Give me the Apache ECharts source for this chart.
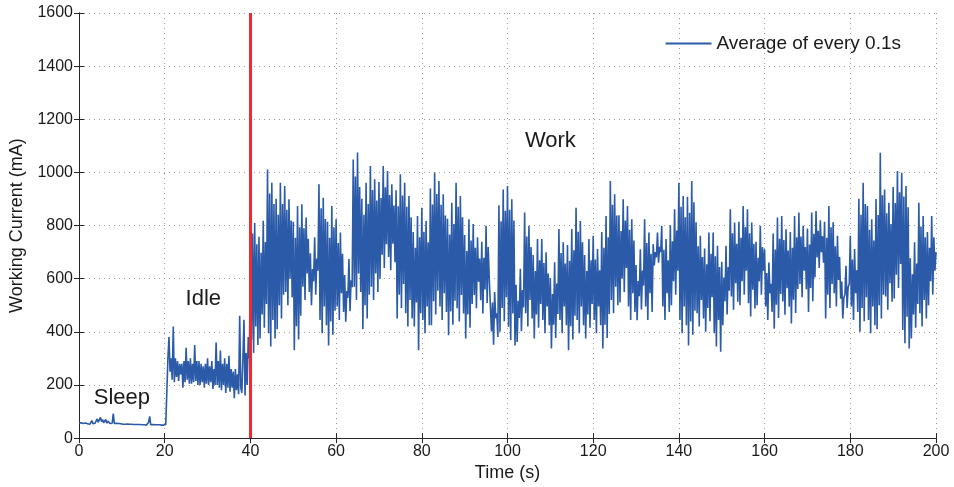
<!DOCTYPE html>
<html>
<head>
<meta charset="utf-8">
<script src="https://cdn.jsdelivr.net/npm/echarts@6/dist/echarts.min.js"></script>
<style>
html,body{margin:0;padding:0;background:#fff;}
#chart{width:954px;height:487px;}
</style>
</head>
<body>
<div id="chart"></div>
<script>
// sample spacing (s) of the hand-read values
const sampleStep = 0.25;
const transitionTime = 40;
const xTicks = [0, 20, 40, 60, 80, 100, 120, 140, 160, 180, 200];
const yTicks = [0, 200, 400, 600, 800, 1000, 1200, 1400, 1600];
const seriesName = 'Average of every 0.1s';
const phaseLabels = [
  { text: 'Sleep', t: 10, v: 150 },
  { text: 'Idle', t: 29, v: 525 },
  { text: 'Work', t: 110, v: 1120 }
];
// t = 0 .. 20.5
const sleepValues = [
  57,56,58,57,55,56,57,55, 54,60,52,58,66,54,60,56, 58,72,60,66,78,62,70,58,
  62,70,56,64,58,55,57,56, 92,55,60,56,54,55,53,54, 53,52,53,52,52,53,52,52,
  51,52,50,51,52,51,50,51, 50,51,50,50,51,50,50,49, 51,60,82,50,50,51,49,50,
  49,50,49,50,50,49,50,49, 50,51,52
];
// t = 20.75 .. 39.75
const idleValues = [
  300,
  380,250,300,220,
  420,210,300,230,290,215,280,240, 280,190,290,210,340,220,290,205,
  300,205,280,210,350,215,290,200, 290,200,280,210,270,190,280,205,
  300,200,270,210,290,185,260,200, 360,200,290,190,330,180,280,200,
  300,170,280,190,310,175,260,190, 250,150,260,180,240,165,460,190,
  170,300,445,160,320,200,380,300
];
// t = 40 .. 200
const workValues = [
  650,370,770,320,810,420,730,350, 758,375,698,465,818,415,738,505,
  1011,395,921,345,961,445,881,375, 901,410,841,500,961,450,881,540,
  949,550,859,500,899,600,819,530, 814,331,754,421,874,371,794,461,
  880,570,790,520,830,620,750,550, 696,500,636,590,756,540,676,630,
  955,445,865,395,905,495,825,425, 814,349,754,439,874,389,794,479,
  824,495,734,445,774,545,694,475, 614,438,554,528,674,478,594,568,
  1049,570,985,520,1075,620,945,550, 901,410,841,500,961,450,881,540,
  1024,570,934,520,974,620,894,550, 964,600,904,690,1024,640,944,730,
  1005,682,915,632,955,732,875,662, 933,450,873,540,993,490,913,580,
  961,470,871,420,911,520,831,450, 776,420,716,510,836,331,756,470,
  867,445,777,395,817,495,737,425, 939,425,879,515,999,465,919,555,
  968,495,878,445,918,545,838,475, 826,387,766,477,886,427,806,517,
  961,489,871,439,911,539,831,469, 764,375,704,465,824,415,744,505,
  806,539,716,489,756,589,676,519, 739,469,679,559,799,509,719,599,
  600,401,510,351,550,451,470,381, 876,400,816,490,936,440,856,530,
  949,419,859,369,899,469,819,349, 577,362,517,452,637,402,557,492,
  849,470,759,420,799,520,719,450, 689,375,629,465,749,415,669,505,
  749,445,659,395,699,495,619,425, 602,337,542,427,662,377,582,467,
  787,445,697,395,737,495,657,425, 727,331,667,421,787,371,707,461,
  867,445,777,395,817,495,737,425, 689,375,629,465,749,415,669,505,
  762,445,672,395,712,495,632,425, 776,337,716,427,836,377,756,467,
  968,520,878,470,918,570,838,500, 839,510,779,600,899,550,819,640,
  874,495,784,445,824,545,744,475, 651,444,591,534,711,484,631,574,
  824,495,734,445,774,545,694,475, 730,650,700,680,774,660,720,700,
  799,495,709,445,749,545,669,475, 801,500,741,590,861,540,781,630,
  961,445,871,395,911,495,831,425, 908,349,848,439,968,389,888,479,
  812,470,722,420,762,520,682,450, 714,400,654,490,774,440,694,530,
  774,395,684,345,724,445,644,325, 664,425,604,515,724,465,644,555,
  861,533,771,483,811,583,731,513, 814,500,754,590,874,540,794,630,
  861,508,771,458,811,558,731,488, 739,500,679,590,799,540,719,630,
  711,495,621,445,661,545,581,475, 770,412,710,502,830,452,750,542,
  836,514,746,464,786,564,706,494, 776,431,716,521,836,471,756,561,
  849,580,759,530,799,630,719,560, 789,475,729,565,849,515,769,605,
  855,680,780,640,820,700,760,660, 814,450,754,540,874,490,794,580,
  812,545,722,495,762,595,682,525, 589,450,529,540,649,490,569,580,
  762,495,672,445,712,545,632,475, 901,400,841,490,961,440,881,530,
  874,445,784,395,824,495,744,425, 900,410,840,500,1074,450,914,540,
  936,533,846,483,886,583,806,513, 945,525,885,615,1005,565,925,655,
  999,407,909,357,949,457,869,337, 677,375,617,465,737,415,657,505,
  886,470,796,420,836,520,756,450, 776,500,716,590,836,540,756,630,
  700
];

const allValues = sleepValues.concat(idleValues, workValues);
const seriesData = allValues.map((v, i) => [i * sampleStep, v]);

const font = 'Liberation Sans, Arial, Helvetica, sans-serif';
const axisColor = '#262626';
const textColor = '#1a1a1a';
const gridLine = { show: true, lineStyle: { color: '#9a9a9a', type: [1, 4], width: 1 } };
const plain = v => String(v);

const chart = echarts.init(document.getElementById('chart'));
chart.setOption({
  animation: false,
  backgroundColor: '#fff',
  grid: { left: 79, right: 18, top: 13, bottom: 47, containLabel: false },
  legend: {
    show: true,
    top: 29, right: 48,
    itemWidth: 46, itemHeight: 2, itemGap: 6,
    data: [{ name: seriesName, icon: 'rect' }],
    textStyle: { fontFamily: font, fontSize: 19, color: textColor, padding: [0, 0, 0, 0] }
  },
  xAxis: [{
    type: 'value', min: xTicks[0], max: xTicks[xTicks.length - 1], interval: 20,
    name: 'Time (s)', nameLocation: 'middle', nameGap: 22,
    nameTextStyle: { fontFamily: font, fontSize: 18, color: textColor },
    axisLine: { show: true, lineStyle: { color: axisColor, width: 1 } },
    axisTick: { show: true, inside: true, length: 5, lineStyle: { color: axisColor } },
    axisLabel: { fontFamily: font, fontSize: 16, color: textColor, margin: 5, formatter: plain },
    splitLine: gridLine
  }, {
    type: 'value', position: 'top', min: xTicks[0], max: xTicks[xTicks.length - 1], interval: 20,
    axisLine: { show: true, lineStyle: { color: axisColor, width: 1 } },
    axisTick: { show: true, inside: true, length: 5, lineStyle: { color: axisColor } },
    axisLabel: { show: false }, splitLine: { show: false }
  }],
  yAxis: [{
    type: 'value', min: yTicks[0], max: yTicks[yTicks.length - 1], interval: 200,
    name: 'Working Current (mA)', nameLocation: 'middle', nameGap: 37,
    nameTextStyle: { fontFamily: font, fontSize: 18, color: textColor },
    axisLine: { show: true, lineStyle: { color: axisColor, width: 1 } },
    axisTick: { show: true, inside: true, length: 5, lineStyle: { color: axisColor } },
    axisLabel: { fontFamily: font, fontSize: 16, color: textColor, margin: 6, formatter: plain },
    splitLine: gridLine
  }, {
    type: 'value', position: 'right', min: yTicks[0], max: yTicks[yTicks.length - 1], interval: 200,
    axisLine: { show: true, lineStyle: { color: axisColor, width: 1 } },
    axisTick: { show: true, inside: true, length: 5, lineStyle: { color: axisColor } },
    axisLabel: { show: false }, splitLine: { show: false }
  }],
  series: [{
    name: seriesName,
    type: 'line',
    data: seriesData,
    showSymbol: false,
    symbol: 'none',
    color: '#2a5aa8',
    lineStyle: { color: '#2a5aa8', width: 1.6 },
    z: 2,
    markPoint: {
      symbol: 'rect', symbolSize: 0,
      label: { show: true, position: 'inside', fontFamily: font, fontSize: 22, color: textColor },
      data: phaseLabels.map(p => ({ coord: [p.t, p.v], value: p.text, label: { formatter: p.text } }))
    },
    markLine: {
      silent: true, symbol: 'none', animation: false,
      label: { show: false },
      lineStyle: { color: '#f5282d', width: 3, type: 'solid' },
      data: [{ xAxis: transitionTime }]
    }
  }]
});
</script>
</body>
</html>
